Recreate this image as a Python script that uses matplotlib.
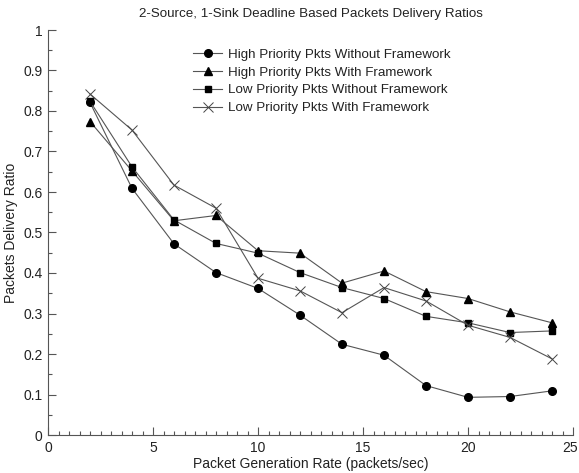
import matplotlib
matplotlib.use("Agg")
import matplotlib.pyplot as plt
import matplotlib.transforms as mtransforms
from matplotlib.ticker import MultipleLocator

plt.rcParams['font.family'] = ['Liberation Sans', 'DejaVu Sans']

rate = [2, 4, 6, 8, 10, 12, 14, 16, 18, 20, 22, 24]
high_without = [0.821, 0.609, 0.472, 0.401, 0.362, 0.296, 0.224, 0.197, 0.122, 0.093, 0.095, 0.109]
high_with = [0.774, 0.652, 0.529, 0.542, 0.455, 0.449, 0.375, 0.405, 0.354, 0.337, 0.304, 0.277]
low_without = [0.824, 0.662, 0.531, 0.473, 0.449, 0.401, 0.364, 0.337, 0.293, 0.277, 0.253, 0.257]
low_with = [0.842, 0.753, 0.617, 0.560, 0.387, 0.356, 0.302, 0.364, 0.331, 0.271, 0.241, 0.188]

labels = [
    "High Priority Pkts Without Framework",
    "High Priority Pkts With Framework",
    "Low Priority Pkts Without Framework",
    "Low Priority Pkts With Framework",
]

X_MAX = 25

fig = plt.figure(figsize=(5.79, 4.73), dpi=100)
ax = fig.add_axes([48 / 579, 38 / 473, 525 / 579, 405 / 473])

line_kw = dict(color="#555555", linewidth=0.8, markeredgecolor="black")
ax.plot(rate, high_without, marker="o", markersize=5.5, markerfacecolor="black", label=labels[0], **line_kw)
ax.plot(rate, high_with, marker="^", markersize=6, markerfacecolor="black", label=labels[1], **line_kw)
ax.plot(rate, low_without, marker="s", markersize=4.5, markerfacecolor="black", label=labels[2], **line_kw)
ax.plot(rate, low_with, marker="x", markersize=7, markeredgewidth=0.7, label=labels[3],
        color="#555555", linewidth=0.8, markeredgecolor="#444444")

ax.set_xlim(0, X_MAX)
ax.set_ylim(0, 1)
ax.xaxis.set_major_locator(MultipleLocator(5))
ax.xaxis.set_minor_locator(MultipleLocator(0.5))
ax.yaxis.set_major_locator(MultipleLocator(0.1))
ax.yaxis.set_minor_locator(MultipleLocator(0.05))
ax.yaxis.set_major_formatter(plt.FuncFormatter(lambda v, p: "0" if v == 0 else ("1" if v == 1 else f"{v:.1f}")))
# the last x label is drawn separately so it stays inside the canvas
ax.xaxis.set_major_formatter(plt.FuncFormatter(lambda v, p: "" if abs(v - X_MAX) < 1e-9 else f"{v:g}"))

for side in ("top", "right"):
    ax.spines[side].set_visible(False)
for side in ("left", "bottom"):
    ax.spines[side].set_color("#555555")
    ax.spines[side].set_linewidth(0.8)

ax.tick_params(which="both", direction="in", color="#555555", width=0.8, labelsize=10, labelcolor="#222222")
ax.tick_params(which="major", length=6, pad=4)
ax.tick_params(which="minor", length=3)

end_tf = mtransforms.blended_transform_factory(ax.transData, ax.transAxes) + \
    mtransforms.ScaledTranslation(5 / 100, -4 / 72, fig.dpi_scale_trans)
ax.text(X_MAX, 0, f"{X_MAX}", transform=end_tf, ha="right", va="top", fontsize=10, color="#222222")

ax.set_xlabel("Packet Generation Rate (packets/sec)", fontsize=10, color="#222222", labelpad=2)
ax.set_ylabel("Packets Delivery Ratio", fontsize=10, color="#222222", labelpad=4)
fig.text(0.5 * (48 + 573) / 579, 1 - 14 / 473, "2-Source, 1-Sink Deadline Based Packets Delivery Ratios",
         ha="center", va="center", fontsize=9.6, color="#222222")

ax.legend(loc="upper left", bbox_to_anchor=(0.266, 0.968), frameon=False, fontsize=9.6,
          handlelength=2.2, handletextpad=0.45, labelspacing=0.42, borderaxespad=0,
          labelcolor="#222222")

fig.savefig("out.png", dpi=100)
